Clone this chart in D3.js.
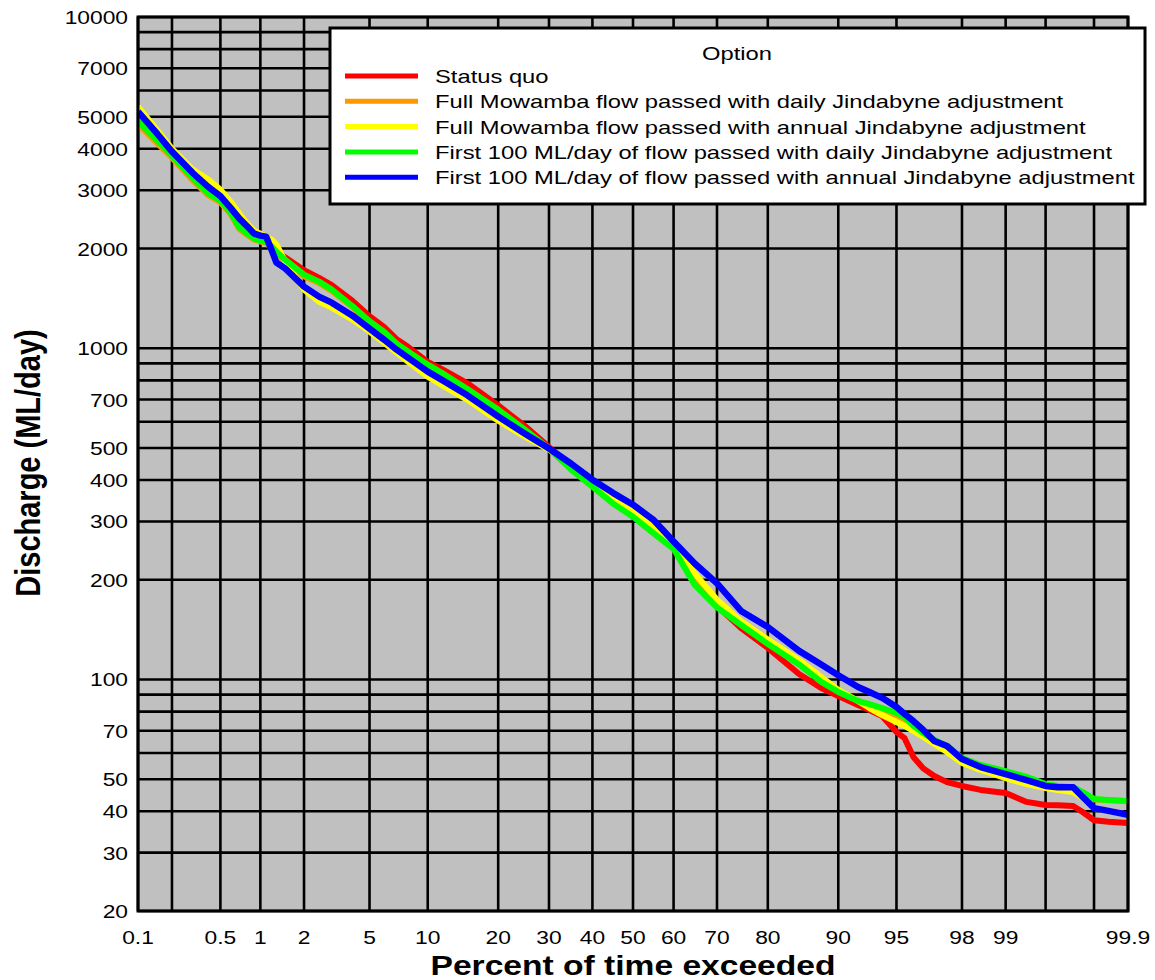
<!DOCTYPE html>
<html><head><meta charset="utf-8">
<script src="https://cdn.jsdelivr.net/npm/d3@7"></script>
<style>html,body{margin:0;padding:0;background:#fff;}svg{display:block;}text{font-family:"Liberation Sans",Arial,sans-serif;fill:#000;}</style>
</head><body><svg id="c" width="1155" height="980"></svg>
<script>
// ---- data ----
const pct = [0.1,0.15,0.2,0.3,0.4,0.5,0.6,0.7,0.8,0.9,1,1.1,1.2,1.3,1.5,2,2.5,3,4,5,6,7,8,10,12,15,20,25,30,35,40,45,50,55,60,65,70,75,80,85,88,90,92,93,94,95,95.5,96,96.5,97,97.5,98,98.5,99,99.3,99.5,99.6,99.7,99.75,99.8,99.85,99.9];
const statusQuo = [4833,4221,3815,3258,2930,2791,2567,2312,2218,2142,2113,2091,2031,1957,1880,1720,1630,1550,1390,1250,1160,1065,1010,910,855,785,672,582,503,432,384,342,311,278,249,196,167,143,124.5,103.9,94.3,89.2,83.8,80.9,77.6,69.4,66.5,58.3,53.9,51.1,49.0,47.7,46.4,45.4,42.7,41.8,41.7,41.5,39.8,37.6,37.2,36.9];
const fullDaily = [4750,4150,3760,3210,2900,2760,2540,2290,2200,2130,2100,2080,2010,1940,1835,1650,1575,1490,1330,1195,1110,1025,970,885,825,750,648,562,496,436,388,350,318,284,252,203,170,148,130,113,100,92.5,86.1,83.2,80.0,76.5,74.5,71.0,68.0,64.8,61.8,57.5,54.5,52.0,50.0,47.8,47.2,46.8,45.2,43.4,43.2,42.9];
const fullAnnual = [5364,4540,4006,3462,3229,3012,2771,2549,2378,2265,2218,2173,2128,2055,1826,1503,1382,1326,1220,1122,1040,970,911,821,766,700,604,541,494,442,393,356,323,289,255,209,174,150,132,114.5,101.7,93.0,86.1,82.0,78.1,74.4,72.4,69.9,67.1,63.9,60.4,56.0,53.3,50.4,48.3,47.0,46.4,45.7,43.9,40.9,40.1,39.0];
const firstDaily = [4833,4221,3815,3258,2930,2791,2567,2312,2218,2142,2113,2091,2031,1957,1847,1668,1589,1503,1339,1206,1122,1032,977,892,832,755,653,568,498,430,382,340,310,277,248,193,165,146,128,111,98.3,91.7,86.1,84.3,82.0,79.2,77.0,72.4,68.9,65.7,63.0,57.9,55.2,52.9,50.8,48.3,47.7,47.3,45.7,43.6,43.3,43.0];
const firstAnnual = [5180,4427,3924,3380,3069,2879,2652,2462,2335,2218,2188,2173,1985,1814,1739,1535,1432,1373,1254,1146,1062,990,937,850,793,722,622,552,498,448,401,366,337,304,261,224,195,161,144,122,111,103,94.9,91.7,88.0,82.6,78.7,74.9,70.4,65.2,63.0,57.5,54.4,51.8,49.7,47.7,47.3,47.3,44.2,40.9,40.1,39.0];
const seriesNames = ["Status quo","Full Mowamba flow passed with daily Jindabyne adjustment","Full Mowamba flow passed with annual Jindabyne adjustment","First 100 ML/day of flow passed with daily Jindabyne adjustment","First 100 ML/day of flow passed with annual Jindabyne adjustment"];
const seriesColors = ["#ff0000","#ff9900","#ffff00","#00ff00","#0000ff"];
const seriesValues = [statusQuo, fullDaily, fullAnnual, firstDaily, firstAnnual];
const xTickLabels = [0.1,0.5,1,2,5,10,20,30,40,50,60,70,80,90,95,98,99,99.9];
const xGrid = [0.1,0.2,0.5,1,2,5,10,20,30,40,50,60,70,80,90,95,98,99,99.5,99.8,99.9];
const yTickLabels = [20,30,40,50,70,100,200,300,400,500,700,1000,2000,3000,4000,5000,7000,10000];
const yGrid = [20,30,40,50,60,70,80,90,100,200,300,400,500,600,700,800,900,1000,2000,3000,4000,5000,6000,7000,8000,9000,10000];

// ---- probit helper ----
function probit(p){
  const a=[-3.969683028665376e+01,2.209460984245205e+02,-2.759285104469687e+02,1.383577518672690e+02,-3.066479806614716e+01,2.506628277459239e+00];
  const b=[-5.447609879822406e+01,1.615858368580409e+02,-1.556989798598866e+02,6.680131188771972e+01,-1.328068155288572e+01];
  const c=[-7.784894002430293e-03,-3.223964580411365e-01,-2.400758277161838e+00,-2.549732539343734e+00,4.374664141464968e+00,2.938163982698783e+00];
  const d=[7.784695709041462e-03,3.224671290700398e-01,2.445134137142996e+00,3.754408661907416e+00];
  const pl=0.02425, ph=1-pl;
  if(p<pl){const q=Math.sqrt(-2*Math.log(p));return (((((c[0]*q+c[1])*q+c[2])*q+c[3])*q+c[4])*q+c[5])/((((d[0]*q+d[1])*q+d[2])*q+d[3])*q+1);}
  if(p<=ph){const q=p-0.5,r=q*q;return (((((a[0]*r+a[1])*r+a[2])*r+a[3])*r+a[4])*r+a[5])*q/(((((b[0]*r+b[1])*r+b[2])*r+b[3])*r+b[4])*r+1);}
  const q=Math.sqrt(-2*Math.log(1-p));return -(((((c[0]*q+c[1])*q+c[2])*q+c[3])*q+c[4])*q+c[5])/((((d[0]*q+d[1])*q+d[2])*q+d[3])*q+1);
}

const L=138, R=1128, T=17, B=911;
const xz = d3.scaleLinear().domain([probit(0.001), probit(0.999)]).range([L,R]);
const x = p => xz(probit(p/100));
const y = d3.scaleLog().domain([20,10000]).range([B,T]);

const svg = d3.select("#c");
svg.append("rect").attr("x",L).attr("y",T).attr("width",R-L).attr("height",B-T).attr("fill","#c0c0c0");

const grid = svg.append("g").attr("stroke","#000").attr("stroke-width",2.6);
grid.selectAll("line.h").data(yGrid).join("line").attr("x1",L).attr("x2",R).attr("y1",d=>y(d)).attr("y2",d=>y(d));
grid.selectAll("line.v").data(xGrid).join("line").attr("x1",d=>x(d)).attr("x2",d=>x(d)).attr("y1",T).attr("y2",B);

svg.append("clipPath").attr("id","clip").append("rect").attr("x",L).attr("y",T).attr("width",R-L).attr("height",B-T);
const line = d3.line().x(d=>x(d[0])).y(d=>y(d[1]));
const lg = svg.append("g").attr("clip-path","url(#clip)");
seriesValues.forEach((vals,i)=>{
  lg.append("path").attr("d",line(pct.map((p,j)=>[p,vals[j]]))).attr("fill","none")
    .attr("stroke",seriesColors[i]).attr("stroke-width",i===4?6.5:6).attr("stroke-linejoin","round").attr("stroke-linecap","butt");
});

svg.append("rect").attr("x",L).attr("y",T).attr("width",R-L).attr("height",B-T).attr("fill","none").attr("stroke","#000").attr("stroke-width",3);

// text helper with horizontal stretch
function txt(g, s, tx, ty, size, anchor, weight, sx){
  return g.append("text").attr("transform",`translate(${tx},${ty}) scale(${sx||1.2},1)`)
    .attr("text-anchor",anchor).attr("font-size",size).attr("font-weight",weight||"normal").text(s);
}

// y tick labels
yTickLabels.forEach(v=>{ txt(svg, String(v), 128, y(v)+7, 19, "end"); });
// x tick labels
xTickLabels.forEach(v=>{ txt(svg, String(v), x(v), 944, 19, "middle"); });

// axis titles
txt(svg, "Percent of time exceeded", (L+R)/2, 975, 28, "middle", "bold");
svg.append("text").attr("transform",`translate(40,463) scale(1.2,1) rotate(-90)`)
  .attr("text-anchor","middle").attr("font-size",29).attr("font-weight","bold").text("Discharge (ML/day)");

// legend
const leg = svg.append("g");
leg.append("rect").attr("x",330).attr("y",28).attr("width",815).attr("height",176).attr("fill","#fff").attr("stroke","#000").attr("stroke-width",3);
txt(leg, "Option", 737, 60, 19, "middle", "normal", 1.25);
seriesNames.forEach((n,i)=>{
  const yy = 76 + i*25.3;
  leg.append("line").attr("x1",345).attr("x2",418).attr("y1",yy).attr("y2",yy).attr("stroke",seriesColors[i]).attr("stroke-width",5);
  txt(leg, n, 435, yy+7, 19, "start", "normal", 1.25);
});
</script></body></html>
